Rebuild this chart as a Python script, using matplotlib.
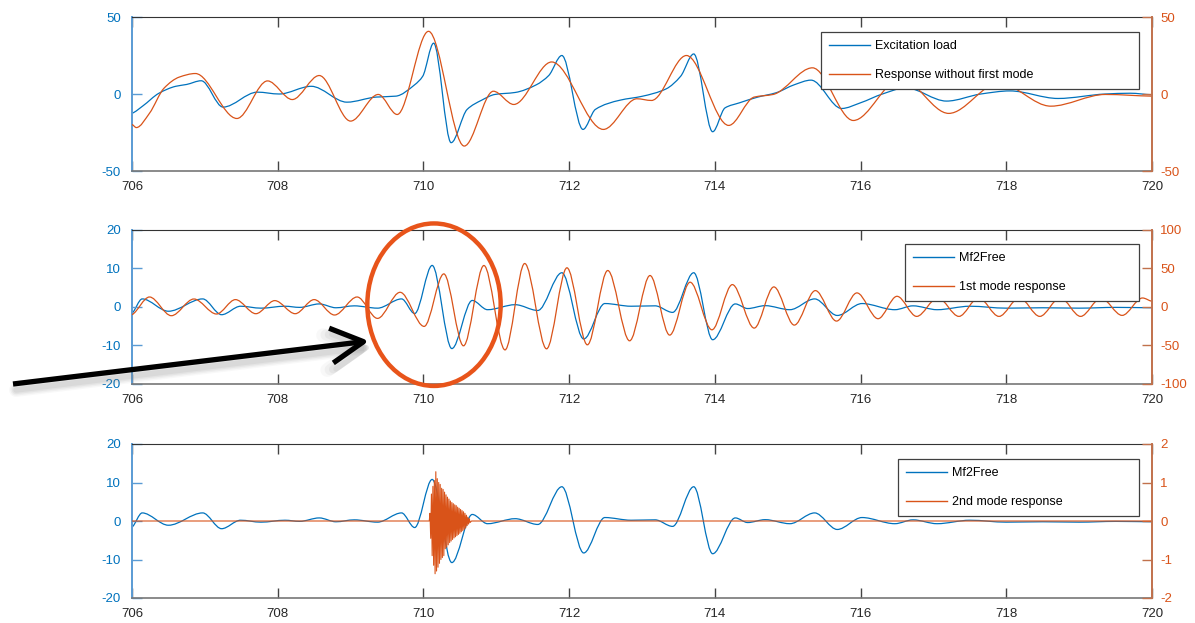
import numpy as np
import matplotlib
matplotlib.use('Agg')  # Non-GUI backend
import matplotlib.pyplot as plt
from matplotlib.path import Path
from matplotlib.patches import PathPatch, Ellipse, FancyArrowPatch
from matplotlib.lines import Line2D

plt.rcParams['font.family'] = ['Liberation Sans', 'DejaVu Sans']
plt.rcParams['axes.unicode_minus'] = False

BLUE = '#0072BD'
ORANGE = '#D95319'

# --- turning points of each signal (time [s], value) ---
exc_t = [706.00, 706.15, 706.37, 706.60, 706.75, 706.95, 707.25, 707.72, 708.02, 708.46,
         708.95, 709.35, 709.62, 709.88, 709.99, 710.14, 710.38, 710.60, 710.80, 710.98,
         711.26, 711.55, 711.72, 711.90, 712.19, 712.36, 712.70, 713.00, 713.33, 713.53,
         713.71, 713.97, 714.14, 714.34, 714.59, 714.84, 715.09, 715.32, 715.74, 716.00,
         716.30, 716.62, 717.18, 717.65, 718.05, 718.71, 719.36, 719.70, 720.00]
exc_y = [-12.5, -7.7, 0.5, 5.0, 6.2, 8.6, -8.5, 1.2, 0.0, 5.0,
         -5.3, -2.0, -1.4, 6.0, 11.5, 33.0, -31.6, -10.0, -4.0, -0.3,
         1.0, 6.0, 12.0, 25.0, -23.0, -10.0, -4.0, -1.5, 3.3, 11.5,
         26.0, -24.5, -9.0, -5.7, -2.0, 0.8, 6.0, 9.0, -9.4, -5.7,
         0.0, 4.0, -4.6, 0.0, 2.0, -2.9, 0.0, 0.5, -0.5]

resp_t = [706.00, 706.06, 706.24, 706.44, 706.65, 706.87, 707.44, 707.86, 708.20, 708.57,
          709.00, 709.38, 709.64, 710.07, 710.56, 710.96, 711.24, 711.76, 712.47, 712.93,
          713.13, 713.61, 714.19, 714.54, 714.80, 715.34, 715.90, 716.55, 717.21, 717.90,
          718.61, 719.36, 720.00]
resp_y = [-19.8, -21.8, -12.5, 3.8, 11.0, 13.3, -15.9, 8.5, -3.6, 12.0,
          -17.6, -0.3, -13.3, 40.7, -33.8, 1.8, -6.8, 20.8, -23.0, -3.1,
          -4.2, 25.0, -20.4, -2.0, -0.3, 17.0, -17.2, 10.0, -12.6, 7.0,
          -7.9, -0.3, -1.4]

mf2_t = [706.00, 706.14, 706.50, 706.97, 707.23, 707.49, 707.77, 708.10, 708.30, 708.57,
         708.80, 709.05, 709.37, 709.70, 709.88, 710.12, 710.39, 710.67, 710.88, 711.26,
         711.57, 711.90, 712.20, 712.49, 712.85, 713.18, 713.42, 713.71, 713.97, 714.28,
         714.45, 714.69, 715.03, 715.37, 715.68, 716.02, 716.47, 716.72, 717.05, 717.50,
         718.00, 718.50, 719.00, 719.50, 720.00]
mf2_y = [-1.6, 2.1, -1.1, 2.1, -2.0, 0.2, -0.3, 0.2, -0.1, 0.8,
         -0.2, 0.3, -0.3, 2.1, -1.7, 10.8, -10.8, 1.7, -0.7, 0.6,
         -0.9, 8.9, -8.3, 0.9, 0.2, 0.3, -1.4, 8.9, -8.5, 0.8,
         -0.4, 0.35, -0.7, 2.1, -2.2, 0.9, -0.7, 0.3, -0.7, 0.2,
         -0.3, -0.2, -0.3, -0.1, -0.2]

mode1_t = [706.00, 706.24, 706.54, 706.85, 707.16, 707.42, 707.70, 707.96, 708.24, 708.50,
           708.78, 709.09, 709.37, 709.68, 710.01, 710.28, 710.55, 710.83, 711.12, 711.39,
           711.69, 711.97, 712.25, 712.53, 712.83, 713.11, 713.38, 713.66, 713.96, 714.24,
           714.54, 714.81, 715.09, 715.38, 715.67, 715.95, 716.24, 716.50, 716.77, 717.06,
           717.35, 717.62, 717.90, 718.18, 718.46, 718.74, 719.02, 719.30, 719.59, 719.87,
           720.00]
mode1_y = [-10.0, 13.0, -11.3, 10.4, -9.1, 9.6, -8.7, 8.3, -8.7, 9.6,
           -10.4, 13.0, -14.8, 19.1, -25.2, 43.0, -50.4, 53.9, -55.7, 56.5,
           -54.3, 50.9, -49.1, 47.4, -43.9, 40.9, -36.5, 32.2, -29.6, 29.1,
           -27.4, 26.1, -23.5, 21.3, -18.3, 18.3, -15.2, 13.9, -12.2, 12.0,
           -12.2, 12.0, -12.2, 12.0, -12.2, 12.0, -12.2, 11.5, -10.9, 11.7,
           7.4]

mode2_t = [706.00, 710.08,
           710.09, 710.10, 710.11, 710.12, 710.13, 710.14, 710.15, 710.16, 710.17, 710.18,
           710.19, 710.20, 710.21, 710.22, 710.23, 710.24, 710.25, 710.26, 710.27, 710.28,
           710.29, 710.30, 710.31, 710.32, 710.33, 710.34, 710.35, 710.36, 710.37, 710.38,
           710.39, 710.40, 710.41, 710.42, 710.43, 710.44, 710.45, 710.46, 710.47, 710.48,
           710.49, 710.50, 710.51, 710.52, 710.53, 710.54, 710.55, 710.56, 710.57, 710.58,
           710.59, 710.60, 710.61, 710.62, 710.63, 710.64,
           710.66, 720.00]
mode2_y = [0.0, 0.0,
           0.2, -0.45, 0.7, -0.9, 0.9, -1.15, 1.05, -1.37, 1.28, -1.3,
           1.1, -1.2, 1.0, -1.1, 0.95, -1.0, 0.85, -0.95, 0.82, -0.9,
           0.75, -0.72, 0.68, -0.68, 0.62, -0.62, 0.57, -0.56, 0.52, -0.52,
           0.48, -0.48, 0.45, -0.44, 0.42, -0.41, 0.4, -0.38, 0.36, -0.35,
           0.33, -0.32, 0.3, -0.28, 0.27, -0.25, 0.24, -0.22, 0.2, -0.18,
           0.15, -0.12, 0.1, -0.08, 0.06, -0.04,
           0.0, 0.0]

xticks = [706, 708, 710, 712, 714, 716, 718, 720]

W, H = 1195, 623


def smooth_path(xs, ys):
    # monotone cubic through the turning points, handed to matplotlib as Bezier segments
    x = np.asarray(xs, float)
    y = np.asarray(ys, float)
    h = np.diff(x)
    d = np.diff(y) / h
    m = np.zeros_like(y)
    for i in range(1, len(x) - 1):
        if d[i - 1] * d[i] > 0:
            w1 = 2 * h[i] + h[i - 1]
            w2 = h[i] + 2 * h[i - 1]
            m[i] = (w1 + w2) / (w1 / d[i - 1] + w2 / d[i])
    m[0] = d[0] * 0.5
    m[-1] = d[-1] * 0.5
    verts = [(x[0], y[0])]
    codes = [Path.MOVETO]
    for i in range(len(x) - 1):
        verts += [(x[i] + h[i] / 3, y[i] + m[i] * h[i] / 3),
                  (x[i + 1] - h[i] / 3, y[i + 1] - m[i + 1] * h[i] / 3),
                  (x[i + 1], y[i + 1])]
        codes += [Path.CURVE4] * 3
    return Path(verts, codes)


def draw_curve(ax, xs, ys, color):
    ax.add_patch(PathPatch(smooth_path(xs, ys), fill=False, edgecolor=color, lw=0.9))


def make_panel(top_px, bottom_px, ylim_l, yt_l, ylim_r, yt_r):
    rect = [132 / W, 1 - bottom_px / H, (1152 - 132) / W, (bottom_px - top_px) / H]
    ax = fig.add_axes(rect)
    axr = ax.twinx()
    ax.set_xlim(706, 720)
    ax.set_ylim(*ylim_l)
    axr.set_ylim(*ylim_r)
    ax.set_xticks(xticks)
    ax.set_yticks(yt_l)
    axr.set_yticks(yt_r)

    ax.spines['top'].set_color('#333333')
    ax.spines['bottom'].set_color('#777777')
    ax.spines['bottom'].set_linewidth(1.2)
    ax.spines['left'].set_color('#5a9bd4')
    ax.spines['left'].set_linewidth(1.4)
    ax.spines['right'].set_visible(False)
    for s in ['left', 'top', 'bottom']:
        axr.spines[s].set_visible(False)
    axr.spines['right'].set_color('#c1714c')
    axr.spines['right'].set_linewidth(1.4)

    ax.tick_params(axis='x', direction='in', top=True, length=7, width=1,
                   color='#444444', labelsize=9.5, labelcolor='#262626', pad=7)
    ax.tick_params(axis='y', direction='in', length=7, width=1,
                   color='#5a9bd4', labelsize=9.5, labelcolor=BLUE, pad=8)
    axr.tick_params(axis='y', direction='in', length=7, width=1,
                    color='#c1714c', labelsize=9.5, labelcolor=ORANGE, pad=6)
    return ax, axr


def add_legend(axr, labels, x0_px, x1_px, top_px):
    handles = [Line2D([], [], color=BLUE, lw=1.0), Line2D([], [], color=ORANGE, lw=1.0)]
    leg = axr.legend(handles, labels, loc='upper left', mode='expand',
                     bbox_to_anchor=(x0_px / W, 1 - top_px / H - 0.1, (x1_px - x0_px) / W, 0.1),
                     bbox_transform=fig.transFigure, borderaxespad=0,
                     fontsize=9, handlelength=3.3, handletextpad=0.4,
                     labelspacing=1.35, borderpad=0.65,
                     fancybox=False, framealpha=1, edgecolor='#404040')
    leg.get_frame().set_linewidth(0.9)
    return leg


fig = plt.figure(figsize=(W / 100, H / 100), dpi=100)

# top: load vs. response without first mode
ax1, ax1r = make_panel(17, 171, (-50, 50), [-50, 0, 50], (-50, 50), [-50, 0, 50])
draw_curve(ax1, exc_t, exc_y, BLUE)
draw_curve(ax1r, resp_t, resp_y, ORANGE)
add_legend(ax1r, ['Excitation load', 'Response without first mode'], 821, 1139, 32)

# middle: Mf2Free vs. 1st mode
ax2, ax2r = make_panel(230, 384, (-20, 20), [-20, -10, 0, 10, 20],
                       (-100, 100), [-100, -50, 0, 50, 100])
draw_curve(ax2, mf2_t, mf2_y, BLUE)
draw_curve(ax2r, mode1_t, mode1_y, ORANGE)
add_legend(ax2r, ['Mf2Free', '1st mode response'], 905, 1139, 244)

# bottom: Mf2Free vs. 2nd mode
ax3, ax3r = make_panel(444, 598, (-20, 20), [-20, -10, 0, 10, 20],
                       (-2, 2), [-2, -1, 0, 1, 2])
draw_curve(ax3, mf2_t, mf2_y, BLUE)
ax3r.plot(mode2_t, mode2_y, color=ORANGE, lw=0.8)
add_legend(ax3r, ['Mf2Free', '2nd mode response'], 898, 1139, 459)

# highlight around the 710 s event in the middle panel
fig.add_artist(Ellipse((710.145, 0.6), 1.83, 42.2, transform=ax2.transData,
                       fill=False, edgecolor='#e8541a', lw=3.2, clip_on=False))

# pointer arrow with a soft drop shadow
tail = (13 / W, 1 - 384 / H)
tip = (369 / W, 1 - 341 / H)
style = '->,head_length=1.3,head_width=0.7'
for lw, a in [(10, 0.05), (8, 0.07), (6, 0.09), (4, 0.1)]:
    dx, dy = 3 / W, -6 / H
    fig.add_artist(FancyArrowPatch((tail[0] + dx, tail[1] + dy), (tip[0] + dx, tip[1] + dy),
                                   transform=fig.transFigure, arrowstyle=style,
                                   mutation_scale=18, lw=lw, color='gray', alpha=a,
                                   shrinkA=0, shrinkB=0, joinstyle='round', capstyle='round'))
fig.add_artist(FancyArrowPatch(tail, tip, transform=fig.transFigure, arrowstyle=style,
                               mutation_scale=18, lw=3.8, color='black',
                               shrinkA=0, shrinkB=0, joinstyle='round', capstyle='butt'))

plt.savefig('out.png', dpi=100)
